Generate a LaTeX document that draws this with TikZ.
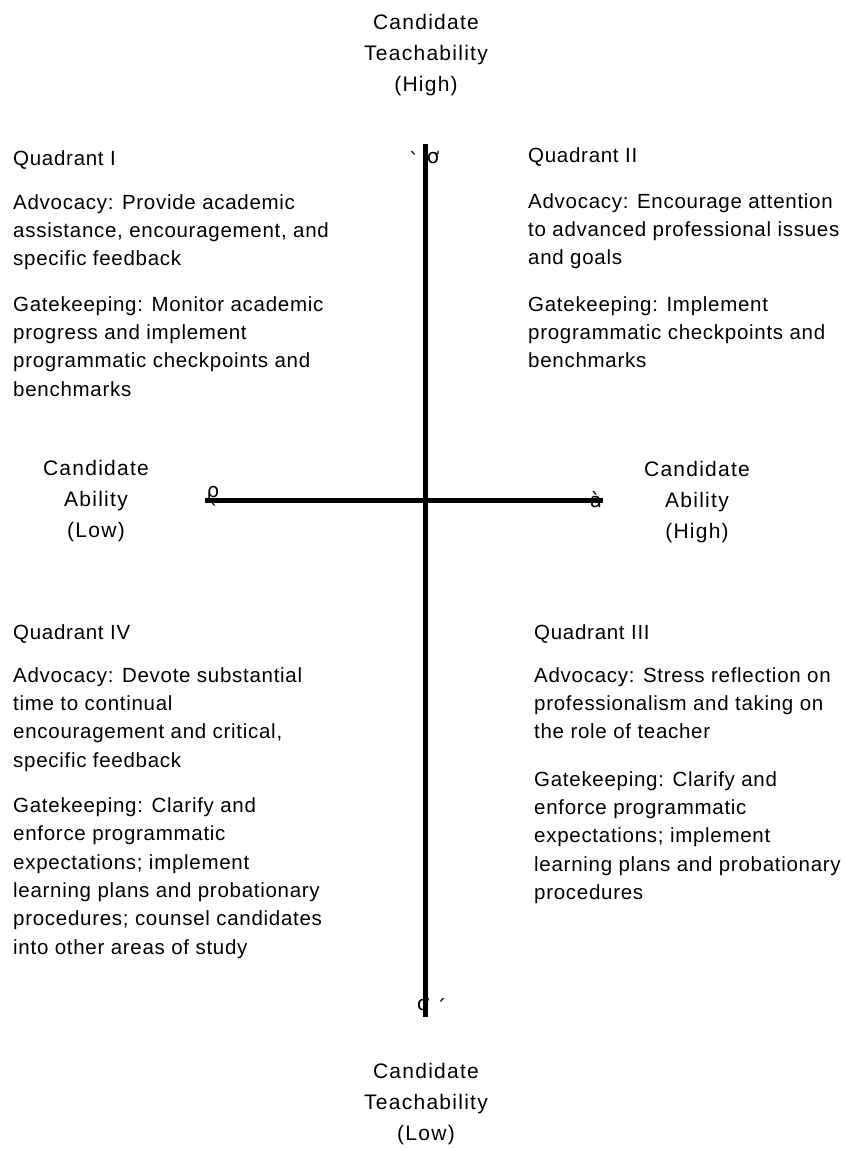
\documentclass[tikz,border=0pt]{standalone}
\usepackage{fontspec}
\setmainfont{Liberation Sans}[LetterSpace=3.5]
\newfontfamily\axfont{Liberation Sans}[LetterSpace=6.0]
\newfontfamily\glyphfont{DejaVu Sans}
\begin{document}
\begin{tikzpicture}[x=1pt,y=-1pt,
  body/.style={anchor=north west,inner sep=0pt,align=left,font=\fontsize{20.5}{28.3}\selectfont},
  axlabel/.style={inner sep=0pt,align=center,font=\axfont\fontsize{21}{31}\selectfont},
  axisline/.style={line width=5pt,black},
  glyph/.style={inner sep=0pt,font=\glyphfont\fontsize{20}{20}\selectfont}]
\useasboundingbox (0,0) rectangle (844,1150);
% axes
\coordinate (vtop) at (425,144);
\coordinate (vbot) at (425,1017);
\coordinate (hleft) at (205,500);
\coordinate (hright) at (603,500);
\draw[axisline] (vtop) -- (vbot);
\draw[axisline] (hleft) -- (hright);
% broken arrow-head glyphs
\node[glyph] (gt) at (433,157) {ơ};
\node[glyph] (gt2) at (414,153) {ˎ};
\node[glyph] (gb) at (423,1004) {ơ};
\node[glyph] (gb2) at (441,1000) {ˏ};
\node[glyph] (gl) at (213,494) {ρ};
\node[glyph] (gl2) at (214,510) {ˋ};
\node[glyph] (gr) at (596,500) {à};
% axis labels
\node[axlabel,anchor=north] (ttop) at (426,14) {Candidate\\Teachability\\(High)};
\node[axlabel] (tleft) at (96,501) {Candidate\\Ability\\(Low)};
\node[axlabel] (tright) at (697,502) {Candidate\\Ability\\(High)};
\node[axlabel,anchor=north] (tbot) at (426,1063) {Candidate\\Teachability\\(Low)};
% quadrants
\node[body] (q1) at (13,150) {Quadrant I\\[16pt]
Advocacy: Provide academic\\assistance, encouragement, and\\specific feedback\\[17pt]
Gatekeeping: Monitor academic\\progress and implement\\programmatic checkpoints and\\benchmarks};
\node[body] (q2) at (528,147) {Quadrant II\\[18pt]
Advocacy: Encourage attention\\to advanced professional issues\\and goals\\[18pt]
Gatekeeping: Implement\\programmatic checkpoints and\\benchmarks};
\node[body] (q4) at (13,624) {Quadrant IV\\[15pt]
Advocacy: Devote substantial\\time to continual\\encouragement and critical,\\specific feedback\\[17pt]
Gatekeeping: Clarify and\\enforce programmatic\\expectations; implement\\learning plans and probationary\\procedures; counsel candidates\\into other areas of study};
\node[body] (q3) at (534,624) {Quadrant III\\[15pt]
Advocacy: Stress reflection on\\professionalism and taking on\\the role of teacher\\[19pt]
Gatekeeping: Clarify and\\enforce programmatic\\expectations; implement\\learning plans and probationary\\procedures};
\end{tikzpicture}
\end{document}
